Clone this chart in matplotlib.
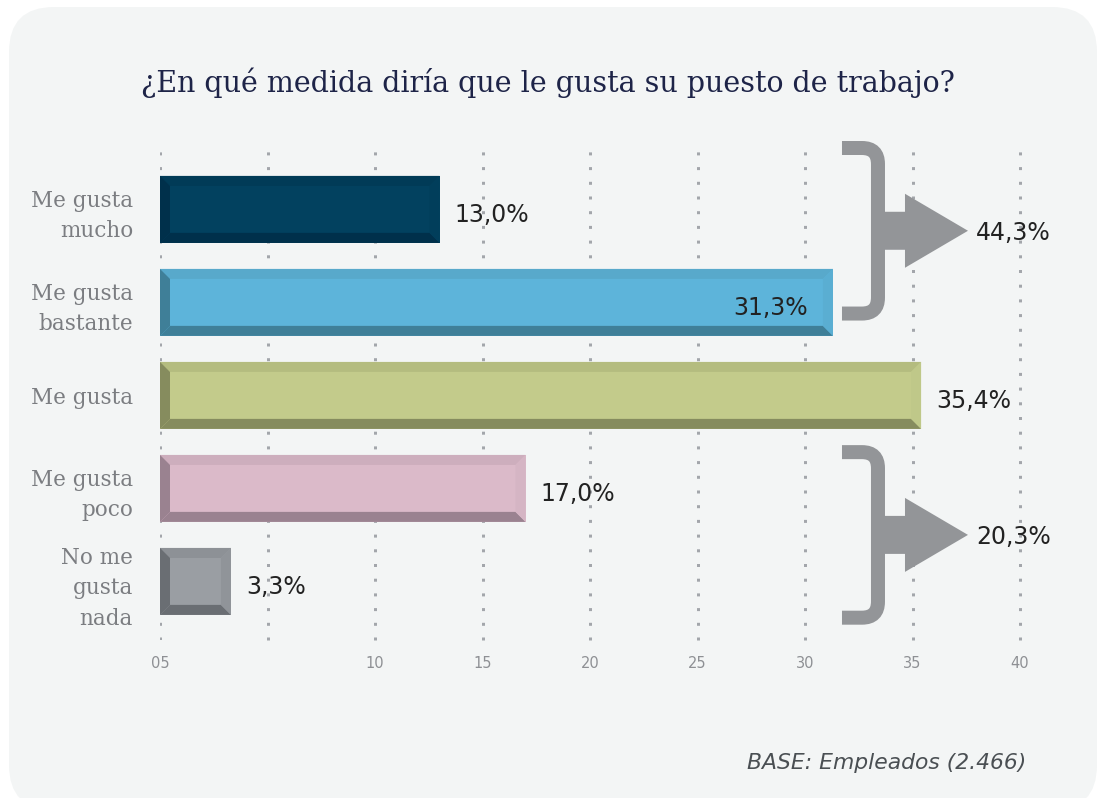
import matplotlib
matplotlib.use("Agg")
import matplotlib.pyplot as plt
from matplotlib.patches import Polygon, FancyBboxPatch, PathPatch
from matplotlib.path import Path
import numpy as np

# ---------------- data ----------------
categories = ["Me gusta\nmucho", "Me gusta\nbastante", "Me gusta", "Me gusta\npoco", "No me\ngusta\nnada"]
values = [13.0, 31.3, 35.4, 17.0, 3.3]
value_labels = ["13,0%", "31,3%", "35,4%", "17,0%", "3,3%"]
xticks = [0, 5, 10, 15, 20, 25, 30, 35, 40]
xtick_labels = ["05", "", "10", "15", "20", "25", "30", "35", "40"]
groups = [(0, 1), (3, 4)]
title = "¿En qué medida diría que le gusta su puesto de trabajo?"
note = "BASE: Empleados (2.466)"

# ---------------- styles ----------------
face = ["#02415f", "#5db4da", "#c3cb8b", "#dbbac9", "#9a9ea3"]
top_c = ["#013b57", "#58a9cb", "#b4bc7f", "#cdaebd", "#8d9196"]
dark_c = ["#00304b", "#3f7f98", "#868c5e", "#9a8290", "#6a6e73"]
right_c = ["#013e5b", "#5aaed2", "#bfc889", "#d5b5c4", "#909499"]
inside = [False, True, False, False, False]
bracket_spans = [(-0.66, 1.12), (2.61, 4.39)]
bracket_x = 31.72

W, H = 1100, 798
fig = plt.figure(figsize=(11, 7.98), dpi=100)
fig.patch.set_facecolor("white")

bg = fig.add_axes([0, 0, 1, 1], zorder=0)
bg.set_xlim(0, W)
bg.set_ylim(0, H)
bg.axis("off")
bg.add_patch(FancyBboxPatch((9, -12), 1088, 803,
                            boxstyle="round,pad=0,rounding_size=45",
                            fc="#f3f5f5", ec="none"))

ax = fig.add_axes([160 / W, (H - 640) / H, 860 / W, 492 / H], zorder=1)
ax.patch.set_alpha(0)
ax.set_xlim(0, 40)
ax.set_ylim(4.63, -0.66)
for s in ax.spines.values():
    s.set_visible(False)

y = np.arange(len(values))
ax.set_xticks(xticks)
ax.set_xticklabels(xtick_labels, fontsize=10.5, color="#8e9094")
ax.set_yticks(y)
ax.set_yticklabels(categories, fontfamily="DejaVu Serif", fontsize=15.5,
                   color="#7b7d81", linespacing=1.5)
ax.tick_params(axis="x", length=0, pad=11.5)
ax.tick_params(axis="y", length=0, pad=19.4)
ax.grid(axis="x", color="#a3a6ab", linestyle=(0, (1, 3.9)), linewidth=2.16)
ax.grid(axis="y", visible=False)
for gl in ax.get_xgridlines()[1:]:
    gl.set_clip_on(False)
ax.set_axisbelow(True)

h = 0.72
ax.barh(y, values, height=h, color=face, edgecolor="none", zorder=2)

bx = 10 * 40 / 860
by = 10 * 5.29 / 492
for i, v in enumerate(values):
    yt, yb = i - h / 2, i + h / 2
    polys = [
        ([(0, yt), (v, yt), (v - bx, yt + by), (bx, yt + by)], top_c[i]),
        ([(0, yb), (v, yb), (v - bx, yb - by), (bx, yb - by)], dark_c[i]),
        ([(0, yt), (bx, yt + by), (bx, yb - by), (0, yb)], dark_c[i]),
        ([(v, yt), (v - bx, yt + by), (v - bx, yb - by), (v, yb)], right_c[i]),
    ]
    for pts, c in polys:
        ax.add_patch(Polygon(pts, closed=True, fc=c, ec="none", zorder=3))
    if inside[i]:
        ax.annotate(value_labels[i], (v, i), xytext=(-18, -9.3), textcoords="offset points",
                    ha="right", va="baseline", fontsize=17, color="#222222", zorder=4)
    else:
        ax.annotate(value_labels[i], (v, i), xytext=(10.8, -9.3), textcoords="offset points",
                    ha="left", va="baseline", fontsize=17, color="#222222", zorder=4)

# ---------------- brackets ----------------
ov = fig.add_axes([0, 0, 1, 1], zorder=3)
ov.set_xlim(0, W)
ov.set_ylim(0, H)
ov.axis("off")
ov.patch.set_alpha(0)

gray = "#939598"
for (a, b), (s0, s1) in zip(groups, bracket_spans):
    x0, yt = ax.transData.transform((bracket_x, s0))
    _, yb = ax.transData.transform((bracket_x, s1))
    xc = x0 + 36
    r = 16
    verts = [(x0, yt), (xc - r, yt), (xc, yt), (xc, yt - r), (xc, yb + r),
             (xc, yb), (xc - r, yb), (x0, yb)]
    codes = [Path.MOVETO, Path.LINETO, Path.CURVE3, Path.CURVE3, Path.LINETO,
             Path.CURVE3, Path.CURVE3, Path.LINETO]
    ov.add_patch(PathPatch(Path(verts, codes), fill=False, ec=gray, lw=10.08,
                           capstyle="butt", joinstyle="miter"))
    c = (yt + yb) / 2
    base, tip = x0 + 63, x0 + 126
    arrow = [(xc, c + 19), (base, c + 19), (base, c + 37), (tip, c),
             (base, c - 37), (base, c - 19), (xc, c - 19)]
    ov.add_patch(Polygon(arrow, closed=True, fc=gray, ec="none"))
    total = sum(values[a:b + 1])
    ov.text(tip + 8, c - 8.85, f"{total:.1f}".replace(".", ",") + "%",
            ha="left", va="baseline", fontsize=17, color="#222222")

# ---------------- texts ----------------
t_title = fig.text(548 / W, 1 - 91.7 / H, title, ha="center", va="baseline",
                   fontfamily="DejaVu Serif", fontsize=20, color="#1e2448")
t_note = fig.text(1026 / W, 1 - 769 / H, note, ha="right", va="baseline",
                  style="italic", fontsize=13, color="#4a4f53")


def fit(t, target_w):
    fig.canvas.draw()
    r = fig.canvas.get_renderer()
    w = t.get_window_extent(r).width
    t.set_fontsize(t.get_fontsize() * target_w / w)


fit(t_title, 813)
fit(t_note, 279)

fig.savefig("out.png", dpi=100)
